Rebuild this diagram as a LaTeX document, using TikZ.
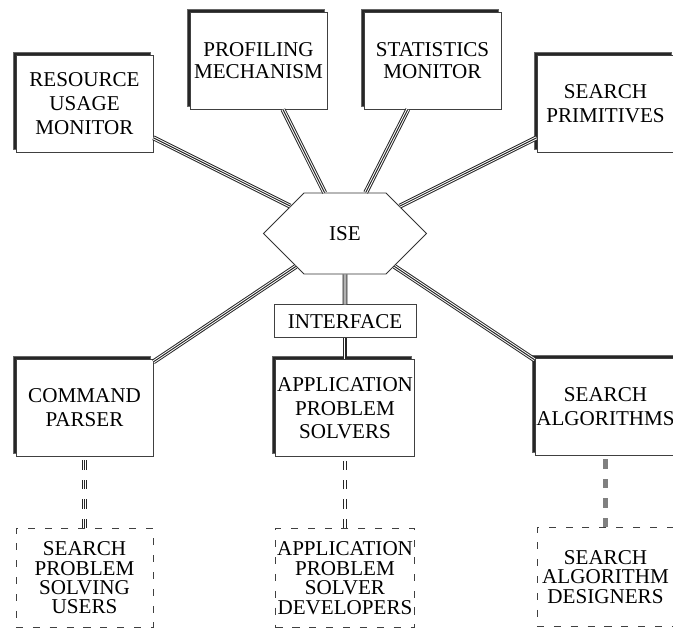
\documentclass[tikz,border=0pt]{standalone}
\usepackage{fontspec}
\setmainfont{Liberation Serif}
\usetikzlibrary{shapes.symbols,shadows,positioning}
\tikzset{module/.style = {draw=black!75, fill=white, line width=0.6pt, align=center, inner sep=1pt,
                          minimum width=3.425cm, minimum height=2.425cm, font=\fontsize{15}{17}\selectfont,
                          general shadow={fill=black!85, draw=black!60, shadow xshift=-0.075cm, shadow yshift=0.075cm}},
         tight/.style = {font=\fontsize{15}{15.4}\selectfont},
         group/.style = {draw=black!75, line width=0.6pt, dash pattern=on 5pt off 7pt, align=center, inner sep=1pt,
                         minimum width=3.425cm, minimum height=2.475cm, font=\fontsize{15}{13.8}\selectfont},
         hub/.style = {draw=black!80, line width=0.6pt, signal, signal to=east and west, signal pointer angle=90,
                       minimum width=4.075cm, minimum height=2.025cm, font=\fontsize{15}{17}\selectfont},
         iface/.style = {draw=black!75, line width=0.6pt, minimum width=3.55cm, minimum height=0.825cm,
                         font=\fontsize{15}{17}\selectfont},
         dashes/.style = {dash pattern=on 6.6pt off 7.2pt},
         link/.style = {draw=white, line width=2.1pt,
                        preaction={draw=black!85, line width=3.5pt},
                        postaction={draw=black!85, line width=0.7pt}},
         dlink/.style = {draw=white, line width=2.1pt, dashes,
                         preaction={draw=black!85, line width=3.5pt, dashes},
                         postaction={draw=black!85, line width=0.7pt, dashes}},
         pairlink/.style = {draw=white, line width=1.1pt, dashes,
                            preaction={draw=black!85, line width=2.7pt, dashes}},
         greylink/.style = {draw=black!50, line width=3.4pt, dashes},
}

\begin{document}
\begin{tikzpicture}[x=0.025cm, y=-0.025cm]
  \useasboundingbox (0,0) rectangle (673,635);

  % upper row
  \node[module] (res) at (84.5,103.5) {RESOURCE\\USAGE\\MONITOR};
  \node[module, tight] (prof) at (258.5,60.5) {PROFILING\\MECHANISM};
  \node[module, tight] (stat) at (432.5,60.5) {STATISTICS\\MONITOR};
  \node[module] (prim) at (605.5,103.5) {SEARCH\\PRIMITIVES};

  % hub
  \node[hub] (ise) at (345,233.5) {ISE};
  \node[iface, below = 0.75cm of ise] (iface) {INTERFACE};

  % lower row
  \node[module] (cmd) at (84.5,408) {COMMAND\\PARSER};
  \node[module, below = 0.525cm of iface] (app) {APPLICATION\\PROBLEM\\SOLVERS};
  \node[module] (alg) at (605.5,407) {SEARCH\\ALGORITHMS};

  % user groups
  \node[group, below = 1.775cm of cmd] (users) {SEARCH\\PROBLEM\\SOLVING\\USERS};
  \node[group, below = 1.775cm of app] (devs) {APPLICATION\\PROBLEM\\SOLVER\\DEVELOPERS};
  \node[group, below = 1.775cm of alg] (designers) {SEARCH\\ALGORITHM\\DESIGNERS};

  \draw[link] (res) -- (ise);
  \draw[link] (prof) -- (ise);
  \draw[link] (stat) -- (ise);
  \draw[link] (prim) -- (ise);
  \draw[link] (cmd) -- (ise);
  \draw[link] (alg) -- (ise);
  \draw[link] (ise) -- (iface);
  \draw[link] (iface) -- (app);

  \draw[dlink] (users) -- (cmd);
  \draw[pairlink] (devs) -- (app);
  \draw[greylink] (designers) -- (alg);

\end{tikzpicture}
\end{document}
